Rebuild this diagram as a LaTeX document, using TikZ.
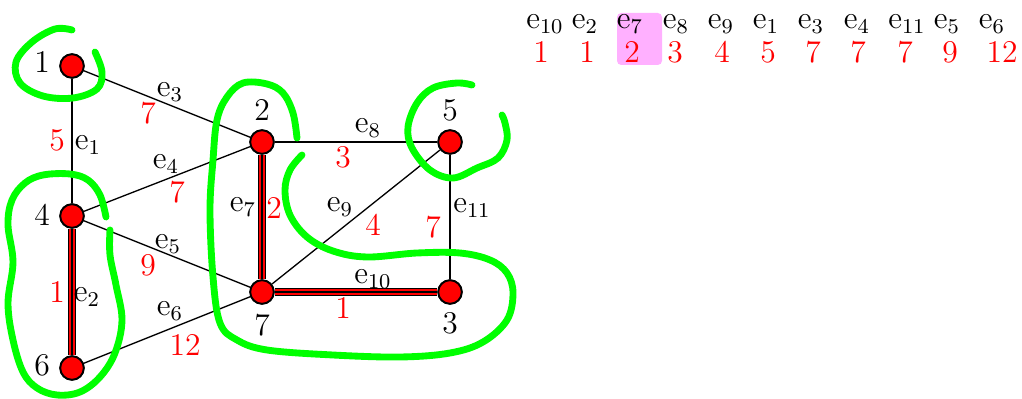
\documentclass[tikz,border=0pt]{standalone}
\usetikzlibrary{calc}
\definecolor{hlpink}{RGB}{255,176,255}
\definecolor{hlgreen}{RGB}{0,255,0}
\newcommand{\edn}[1]{$\mathrm{e}_{#1}$}
\tikzset{
  vtx/.style={circle, fill=red, draw=black, line width=0.6pt, inner sep=0pt, minimum size=0.32cm},
  vlab/.style={font=\large, inner sep=0pt},
  elab/.style={font=\large, inner sep=0pt},
  wlab/.style={font=\large, text=red, inner sep=0pt},
  edge/.style={draw=black, line width=0.5pt},
  treeedge/.style={draw=black, line width=0.4pt,
     preaction={draw=red, line width=2.3pt, preaction={draw=black, line width=2.9pt}}},
  lasso/.style={draw=hlgreen, line width=2.6pt, line cap=round, line join=round}
}
\begin{document}
\begin{tikzpicture}[x=0.0133333cm, y=-0.0133333cm]
\useasboundingbox (0,0) rectangle (1022,399);

% highlight box
\node[fill=hlpink, rounded corners=1.6pt, minimum width=45*0.0133333cm, minimum height=52*0.0133333cm, inner sep=0pt] (hl) at (639.5,39) {};

% vertices
\node[vtx] (v1) at (72,66) {};
\node[vtx] (v4) at (72,216) {};
\node[vtx] (v6) at (72,368) {};
\node[vtx] (v2) at (262,142) {};
\node[vtx] (v7) at (262,292) {};
\node[vtx] (v5) at (450,142) {};
\node[vtx] (v3) at (450,292) {};

% edges
\draw[edge] (v1) -- (v4);
\draw[treeedge] (v4) -- (v6);
\draw[edge] (v1) -- (v2);
\draw[edge] (v4) -- (v2);
\draw[edge] (v4) -- (v7);
\draw[edge] (v6) -- (v7);
\draw[treeedge] (v2) -- (v7);
\draw[edge] (v2) -- (v5);
\draw[edge] (v7) -- (v5);
\draw[treeedge] (v7) -- (v3);
\draw[edge] (v5) -- (v3);

% redraw vertices on top
\foreach \v in {v1,v2,v3,v4,v5,v6,v7}{
  \fill[red] (\v) circle[radius=0.155cm];
  \draw[black, line width=0.6pt] (\v) circle[radius=0.155cm];
}

% vertex labels
\node[vlab] (l1) at (42,62) {1};
\node[vlab] (l4) at (42,215) {4};
\node[vlab] (l6) at (42,365) {6};
\node[vlab] (l2) at (262,110) {2};
\node[vlab] (l7) at (262,325) {7};
\node[vlab] (l5) at (450,110) {5};
\node[vlab] (l3) at (450,323) {3};

% edge labels
\node[elab] (n1) at (88,145) {\edn{1}};
\node[wlab] (w1) at (57,140) {5};
\node[elab] (n2) at (87,297) {\edn{2}};
\node[wlab] (w2) at (57,292) {1};
\node[elab] (n3) at (170,92) {\edn{3}};
\node[wlab] (w3) at (148,113) {7};
\node[elab] (n4) at (166,164) {\edn{4}};
\node[wlab] (w4) at (177,192) {7};
\node[elab] (n5) at (168,244) {\edn{5}};
\node[wlab] (w5) at (148,265) {9};
\node[elab] (n6) at (170,311) {\edn{6}};
\node[wlab] (w6) at (185,345) {12};
\node[elab] (n7) at (243,207) {\edn{7}};
\node[wlab] (w7) at (274,208) {2};
\node[elab] (n8) at (368,128) {\edn{8}};
\node[wlab] (w8) at (343,157) {3};
\node[elab] (n9) at (340,207) {\edn{9}};
\node[wlab] (w9) at (373,225) {4};
\node[elab] (n10) at (373,279) {\edn{10}};
\node[wlab] (w10) at (343,308) {1};
\node[elab] (n11) at (472,208) {\edn{11}};
\node[wlab] (w11) at (433,227) {7};

% sorted table
\foreach \name/\x in {10/545, 2/585, 7/630, 8/676, 9/721, 1/766, 3/811, 4/857, 11/907, 5/947, 6/992}{
  \node[elab] (t\name) at (\x,24) {\edn{\name}};
}
\foreach \w/\x [count=\i] in {1/541, 1/587, 2/632, 3/675, 4/722, 5/768, 7/813, 7/858, 7/905, 9/950, 12/1002}{
  \node[wlab] (s\i) at (\x,52) {\w};
}

% green lassos
\draw[lasso] plot[smooth, tension=0.6] coordinates {(72,30) (55,29) (32,42) (16,62) (20,83) (43,96) (73,98) (97,89) (102,72) (95,52)};
\draw[lasso] plot[smooth, tension=0.6] coordinates {(106,217) (100,195) (88,180) (70,174) (43,175) (25,183) (12,200) (8,225) (13,262) (8,303) (13,340) (23,372) (37,388) (57,395) (80,392) (100,377) (115,353) (122,320) (116,285) (110,255) (110,230)};
\draw[lasso] plot[smooth, tension=0.6] coordinates {(297,138) (293,113) (283,93) (267,84) (243,83) (227,97) (217,120) (213,160) (210,210) (213,277) (220,323) (237,340) (267,350) (333,355) (400,357) (450,353) (483,342) (507,320) (513,293) (507,273) (490,260) (460,253) (417,253) (367,257) (333,251) (307,237) (290,215) (285,190) (290,170) (302,155)};
\draw[lasso] plot[smooth, tension=0.6] coordinates {(472,85) (457,83) (433,88) (417,103) (408,127) (412,148) (430,170) (453,178) (477,168) (498,158) (507,140) (505,123) (502,115)};
\end{tikzpicture}
\end{document}
